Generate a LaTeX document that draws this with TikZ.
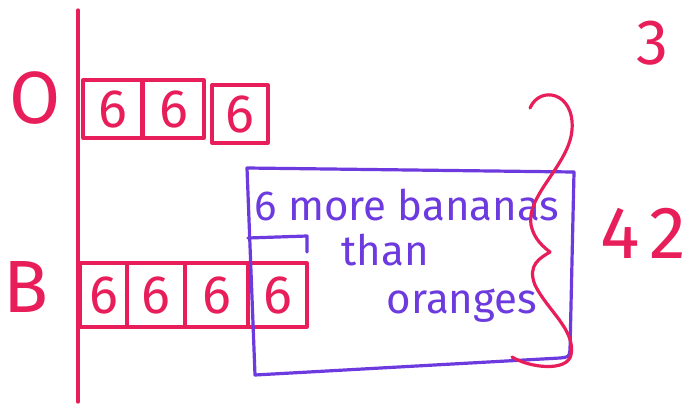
\documentclass[tikz,border=0pt]{standalone}
\usepackage{fontspec}
\setmainfont{Fira Sans}
\definecolor{pinkink}{RGB}{232,30,90}
\definecolor{purpink}{RGB}{108,58,222}
\begin{document}
\begin{tikzpicture}[x=1pt,y=-1pt,line cap=round,line join=round,
  ink/.style={line width=3.2pt},
  pbox/.style={draw=pinkink,ink,text=pinkink,inner sep=0pt,
    font=\fontsize{54}{54}\selectfont},
  pinklab/.style={text=pinkink,inner sep=0pt,font=\fontsize{74}{74}\selectfont},
  purtext/.style={text=purpink,inner sep=0pt,font=\fontsize{42}{42}\selectfont}]
\useasboundingbox (0,0) rectangle (688,405);
\fill[white] (0,0) rectangle (688,405);
% axis line
\coordinate (axtop) at (78,10);
\coordinate (axbot) at (78,402);
\draw[pinkink,ink] (axtop) -- (axbot);
% labels
\node[pinklab] (olab) at (35,98) {O};
\node[pinklab] (blab) at (26,287) {B};
\node[pinklab,font=\fontsize{64}{64}\selectfont] (three) at (652,43) {3};
\node[pinklab] (fortytwo) at (643,233) {4\hspace{10pt}2};
% oranges row
\node[pbox,minimum width=59pt,minimum height=58pt] (o1) at (112.5,109) {6};
\node[pbox,minimum width=61pt,minimum height=58pt] (o2) at (173.5,109) {6};
\node[pbox,minimum width=56pt,minimum height=58pt] (o3) at (240,114) {6};
% bananas row
\node[pbox,minimum width=47pt,minimum height=64pt] (b1) at (103.5,295) {6};
\node[pbox,minimum width=58pt,minimum height=64pt] (b2) at (156,295) {6};
\node[pbox,minimum width=63pt,minimum height=64pt] (b3) at (216.5,295) {6};
\node[pbox,minimum width=59pt,minimum height=64pt] (b4) at (277.5,295) {6};
% purple box
\draw[purpink,ink] (247,168) -- (574,172) -- (570,350)
  .. controls (569,357) .. (560,358) -- (255,375) -- cycle;
% purple bracket
\draw[purpink,ink] (248,238) -- (307,236) -- (307,252);
% purple text
\node[purtext] (t1) at (407,205) {6 more bananas};
\node[purtext] (t2) at (385,250) {than};
\node[purtext] (t3) at (462,306) {oranges};
% pink brace
\draw[pinkink,ink] (530,108) .. controls (540,85) and (575,92) .. (572,130)
  .. controls (569,165) and (526,195) .. (531,225)
  .. controls (534,240) and (545,248) .. (550,252);
\draw[pinkink,ink] (550,252) .. controls (540,258) and (527,265) .. (535,285)
  .. controls (547,310) and (576,330) .. (571,355)
  .. controls (567,372) and (530,368) .. (512,357);
\end{tikzpicture}
\end{document}
